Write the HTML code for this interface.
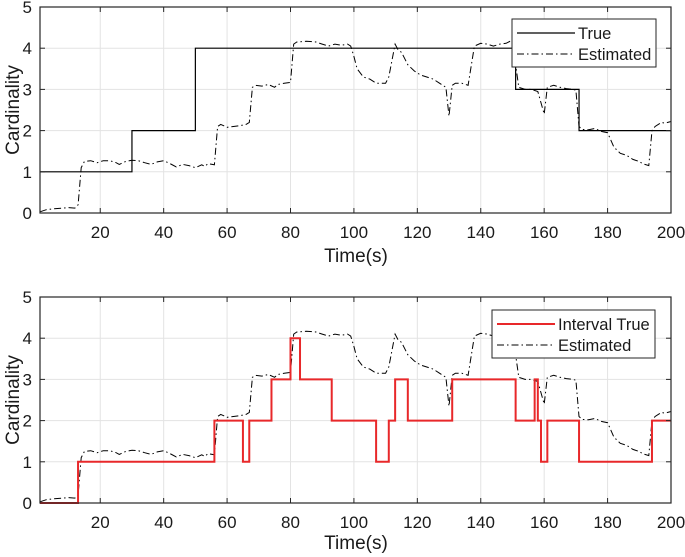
<!DOCTYPE html>
<html><head><meta charset="utf-8"><style>
body{margin:0;background:#fff}
svg{display:block;font-family:"Liberation Sans",sans-serif}
</style></head><body>
<svg id="chart" width="685" height="557"></svg>
<script>
const trueT=[1,30,50,151,171,200];
const trueV=[1,2,4,3,2,2];
const intT=[1,13,56,65,67,74,80,83,93,107,111,113,117,131,151,157,158,159,161,171,194,200];
const intV=[0,1,2,1,2,3,4,3,2,1,2,3,2,3,2,3,2,1,2,1,2,2];
const estT=[1,3,5,8,10,12,13,14,15,17,19,21,23,25,26,28,30,32,34,36,38,40,42,44,46,48,50,52,53,54,56,57,58,60,62,64,66,67,68,69,71,73,75,76,78,80,81,82,85,88,90,92,94,96,98,99,100,101,103,105,107,110,111,113,114,115,117,119,121,123,125,127,129,130,131,132,134,136,138,140,142,144,146,148,150,151,152,154,156,158,160,161,163,165,167,169,170,171,172,174,176,178,180,182,184,186,188,190,191,193,194,195,197,198,200];
const estV=[0.03,0.08,0.1,0.12,0.13,0.12,0.2,1.1,1.25,1.27,1.22,1.27,1.27,1.22,1.18,1.25,1.28,1.27,1.22,1.18,1.24,1.27,1.2,1.12,1.18,1.15,1.1,1.17,1.13,1.2,1.17,2.1,2.15,2.08,2.1,2.12,2.15,2.2,3.05,3.1,3.08,3.12,3.05,3.12,3.15,3.17,4.1,4.15,4.17,4.15,4.1,4.05,4.1,4.07,4.1,4.05,3.8,3.5,3.3,3.25,3.15,3.15,3.3,4.1,3.95,3.9,3.6,3.45,3.35,3.3,3.25,3.15,3.05,2.35,3.1,3.15,3.15,3.1,4.05,4.12,4.1,4.05,4.1,4.12,4.2,3.6,3.05,3.0,3.0,2.95,2.4,3.05,3.1,3.05,3.02,3.0,2.98,2.1,2.03,2.02,2.05,1.98,1.95,1.6,1.45,1.4,1.3,1.25,1.2,1.15,2.0,2.1,2.2,2.18,2.22];
const xTicks=[20,40,60,80,100,120,140,160,180,200];
const yTicks=[0,1,2,3,4,5];

const svg=document.getElementById('chart');
const NS='http://www.w3.org/2000/svg';
function mk(tag,attrs,parent){const e=document.createElementNS(NS,tag);for(const k in attrs)e.setAttribute(k,attrs[k]);(parent||svg).appendChild(e);return e;}
const L=40,R=671;
function xs(t){return L+(t-1)*(R-L)/199;}
function stepPath(T,V,ys){let d='M'+xs(T[0])+','+ys(V[0]);for(let i=1;i<T.length;i++){d+='H'+xs(T[i])+'V'+ys(V[i]);}return d;}
function linePath(T,V,ys){return T.map((t,i)=>(i?'L':'M')+xs(t).toFixed(1)+','+ys(V[i]).toFixed(1)).join('');}

function panel(top,bot,name,stepT,stepV,stepColor,stepLabel,leg,titleOff){
  const ys=v=>bot-v*(bot-top)/5;
  const g=mk('g',{});
  
  
  xTicks.forEach(t=>{const l=mk('line',{x1:xs(t),x2:xs(t),y1:top,y2:bot,stroke:'#e3e3e3','stroke-width':1},g);});
  yTicks.forEach(v=>{const l=mk('line',{x1:L,x2:R,y1:ys(v),y2:ys(v),stroke:'#e3e3e3','stroke-width':1},g);});
  const est=mk('path',{d:linePath(estT,estV,ys),fill:'none',stroke:'#000','stroke-width':1,'stroke-dasharray':'7 3 1.5 3'},g);
  
  
  const st=mk('path',{d:stepPath(stepT,stepV,ys),fill:'none',stroke:stepColor,'stroke-width':stepColor==='#000'?1.2:2},g);
  
  
  const box=mk('rect',{x:L,y:top,width:R-L,height:bot-top,fill:'none',stroke:'#262626','stroke-width':1.2},g);
  
  
  xTicks.forEach(t=>{
    mk('line',{x1:xs(t),x2:xs(t),y1:bot,y2:bot-5,stroke:'#262626'},g);
    mk('line',{x1:xs(t),x2:xs(t),y1:top,y2:top+5,stroke:'#262626'},g);
    const tx=mk('text',{x:xs(t),y:bot+25,'text-anchor':'middle','font-size':17,fill:'#1a1a1a'},g);tx.textContent=t;
    
  });
  yTicks.forEach(v=>{
    mk('line',{x1:L,x2:L+5,y1:ys(v),y2:ys(v),stroke:'#262626'},g);
    mk('line',{x1:R,x2:R-5,y1:ys(v),y2:ys(v),stroke:'#262626'},g);
    const tx=mk('text',{x:L-8,y:ys(v)+6,'text-anchor':'end','font-size':17,fill:'#1a1a1a'},g);tx.textContent=v;
    
  });
  const xl=mk('text',{x:356,y:bot+titleOff,'text-anchor':'middle','font-size':19,fill:'#1a1a1a'},g);xl.textContent='Time(s)';
  
  const yl=mk('text',{x:0,y:0,'text-anchor':'middle','font-size':19,fill:'#1a1a1a',transform:`translate(19,${(top+bot)/2}) rotate(-90)`},g);yl.textContent='Cardinality';
  
  const lg=mk('g',{},g);
  
  mk('rect',{x:leg.x,y:leg.y,width:leg.w,height:48,fill:'#fff',stroke:'#262626','stroke-width':1},lg);
  mk('line',{x1:leg.x+5,x2:leg.x+63,y1:leg.y+14,y2:leg.y+14,stroke:stepColor,'stroke-width':stepColor==='#000'?1.2:2},lg);
  mk('line',{x1:leg.x+5,x2:leg.x+63,y1:leg.y+35,y2:leg.y+35,stroke:'#000','stroke-width':1,'stroke-dasharray':'7 3 1.5 3'},lg);
  const t1=mk('text',{x:leg.x+66,y:leg.y+20,'font-size':16.5,fill:'#1a1a1a'},lg);t1.textContent=stepLabel;
  
  const t2=mk('text',{x:leg.x+66,y:leg.y+41,'font-size':16.5,fill:'#1a1a1a'},lg);t2.textContent='Estimated';
  
}
panel(7,213,'top-panel',trueT,trueV,'#000','True',{x:512,y:19,w:144},49);
panel(297,503,'bottom-panel',intT,intV,'#e8282a','Interval True',{x:492,y:310,w:163},46);
</script>
</body></html>
